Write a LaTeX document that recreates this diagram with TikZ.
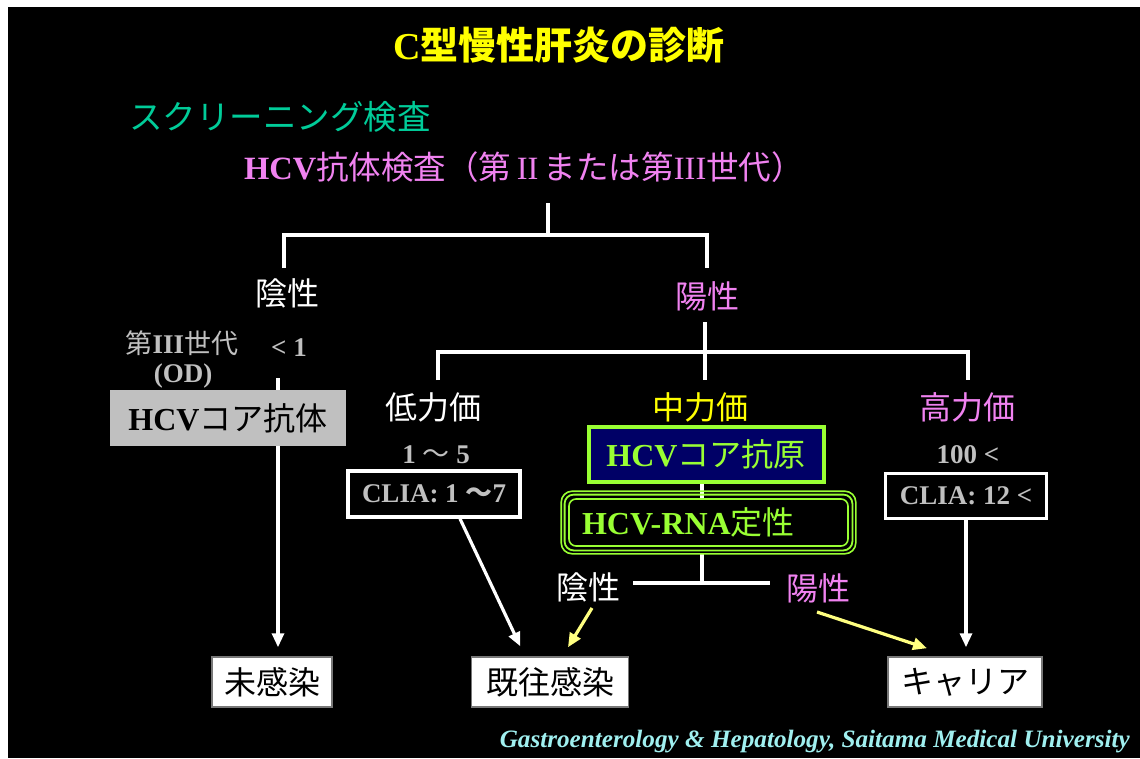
\documentclass[tikz,border=0pt]{standalone}
\usepackage{fontspec}
\setmainfont{Liberation Serif}
\newfontfamily\jp{Noto Sans CJK JP}
\usetikzlibrary{arrows.meta,calc}
\definecolor{ttl}{RGB}{255,255,0}
\definecolor{tealx}{RGB}{0,204,153}
\definecolor{pnk}{RGB}{240,130,240}
\definecolor{gry}{RGB}{192,192,192}
\definecolor{grn}{RGB}{153,255,51}
\definecolor{navyx}{RGB}{0,0,102}
\definecolor{ylw}{RGB}{255,255,128}
\definecolor{cyn}{RGB}{160,240,240}
\definecolor{bdr}{RGB}{120,120,120}
\pgfdeclarelayer{back}
\pgfdeclarelayer{lines}
\pgfsetlayers{back,lines,main}
\newcommand\fs[1]{\fontsize{#1}{#1}\selectfont}
\newcommand\rn[1]{\makebox[1em]{\mdseries #1}}
\begin{document}
\begin{tikzpicture}[x=1pt,y=-1pt,
  txt/.style={inner sep=0pt, anchor=center},
  tree/.style={draw=white, line width=4pt},
  arr/.style={draw=white, line width=3.2pt, shorten >=9pt, -{Triangle[width=12pt,length=14pt]}},
  yarr/.style={draw=ylw, line width=3.2pt, -{Triangle[width=12pt,length=14pt]}},
  wbox/.style={draw=bdr, line width=1.5pt, fill=white, text=black, minimum height=50pt, inner sep=0pt, font=\fs{32}\jp},
  cbox/.style={draw=white, line width=3.5pt, fill=black, text=gry, inner sep=0pt, font=\fs{27}\bfseries},
  gtxt/.style={txt, text=gry, font=\fs{27}\bfseries}
]
\useasboundingbox (0,0) rectangle (1140,758);
\begin{pgfonlayer}{back}
  \fill[white] (0,0) rectangle (1140,758);
  \fill[black] (8,7) rectangle (1140,758);
\end{pgfonlayer}

% titles
\node[txt, text=ttl] (title) at (559,45) {\fs{38}\bfseries C{\jp 型慢性肝炎の診断}};
\node[txt, text=tealx] (scr) at (280,117) {\fs{33.5}\jp スクリーニング検査};
\node[txt, text=pnk] (hcvab) at (524,167) {\fs{32.5}\textbf{HCV}{\jp 抗体検査（第}\rn{II}{\jp または第}\rn{III}{\jp 世代）}};

% first split
\node[txt, text=white] (neg1) at (287,293) {\fs{32}\jp 陰性};
\node[txt, text=pnk] (pos1) at (707,296) {\fs{32}\jp 陽性};

% left branch
\node[gtxt] (gen3) at (182,343) {{\jp\mdseries 第}III{\jp\mdseries 世代}};
\node[gtxt] (od) at (183,376) {(OD)};
\node[gtxt] (lt1) at (289,348) {< 1};
\node[fill=gry, text=black, minimum width=236pt, minimum height=56pt, inner sep=0pt] (coreab) at (228,418) {\fs{32}\textbf{HCV}{\jp コア抗体}};

% titer levels
\node[txt, text=white] (low) at (433,407) {\fs{32}\jp 低力価};
\node[txt, text=ttl] (mid) at (700,407) {\fs{32}\jp 中力価};
\node[txt, text=pnk] (high) at (967,407) {\fs{32}\jp 高力価};

\node[gtxt] (r15) at (436,455) {1 {\jp\mdseries 〜} 5};
\node[cbox, minimum width=172pt, minimum height=46pt] (clia1) at (434,494) {CLIA: 1 {\jp 〜}7};
\node[gtxt] (r100) at (968,455) {100 <};
\node[cbox, minimum width=161pt, minimum height=45pt] (clia12) at (966,496) {CLIA: 12 <};

\node[draw=grn, line width=4pt, fill=navyx, text=grn, minimum width=235pt, minimum height=55pt, inner sep=0pt] (coreag) at (706,454) {\fs{32}\textbf{HCV}{\jp コア抗原}};

\node[draw=grn, line width=1.6pt, rounded corners=7pt, fill=black, text=grn, text width=253pt, inner xsep=13pt, inner ysep=0pt, minimum height=47pt, align=left] (rna) at (708.5,522.5) {\fs{32}\textbf{HCV-RNA}{\jp 定性}};
\draw[grn, line width=1.8pt, rounded corners=9pt] ($(rna.south west)+(-3.6,3.6)$) rectangle ($(rna.north east)+(3.6,-3.6)$);
\draw[grn, line width=1.6pt, rounded corners=11pt] ($(rna.south west)+(-7,7)$) rectangle ($(rna.north east)+(7,-7)$);

\node[txt, text=white] (neg2) at (588,587) {\fs{32}\jp 陰性};
\node[txt, text=pnk] (pos2) at (818,588) {\fs{32}\jp 陽性};

% outcomes
\node[wbox, minimum width=120pt] (uninf) at (272,682) {未感染};
\node[wbox, minimum width=157pt] (past) at (550,682) {既往感染};
\node[wbox, minimum width=154pt] (carrier) at (965,682) {キャリア};

\node[txt, text=cyn, anchor=east] (foot) at (1130,742) {\resizebox{630pt}{\height}{\fs{25}\bfseries\itshape Gastroenterology \& Hepatology, Saitama Medical University}};

% connectors
\coordinate (t0) at (548,203);
\coordinate (t1) at (548,237);
\coordinate (tL) at (284,235);
\coordinate (tR) at (707,235);
\coordinate (tLe) at (284,268);
\coordinate (tRe) at (707,268);
\coordinate (u0) at (705,322);
\coordinate (u1) at (705,380);
\coordinate (uL) at (438,352);
\coordinate (uR) at (968,352);
\coordinate (uLe) at (438,380);
\coordinate (uRe) at (968,380);
\coordinate (c1) at (278,378);
\coordinate (r0) at (702,553);
\coordinate (r1) at (702,585);
\coordinate (rL) at (633,583);
\coordinate (rR) at (770,583);
\begin{pgfonlayer}{lines}
  \draw[tree] (t0) -- (t1);
  \draw[tree] (tLe) -- (tL) -- (tR) -- (tRe);
  \draw[tree] (u0) -- (u1);
  \draw[tree] (uLe) -- (uL) -- (uR) -- (uRe);
  \draw[arr] (c1) -- (c1 |- uninf.north);
  \draw[tree] (coreag.south -| r0) -- (rna.north -| r0);
  \draw[tree] (r0) -- (r1);
  \draw[tree] (rL) -- (rR);
  \draw[arr, shorten >=11pt] ($(clia1.south)+(26,0)$) -- ($(past.north)+(-25,0)$);
  \draw[arr] (clia12.south) -- (clia12.south |- carrier.north);
  \draw[yarr] ($(neg2.center)+(4,21)$) -- ($(past.north)+(18,-9)$);
  \draw[yarr] ($(pos2.center)+(-1,24)$) -- ($(carrier.north)+(-38,-8)$);
\end{pgfonlayer}
\end{tikzpicture}
\end{document}
